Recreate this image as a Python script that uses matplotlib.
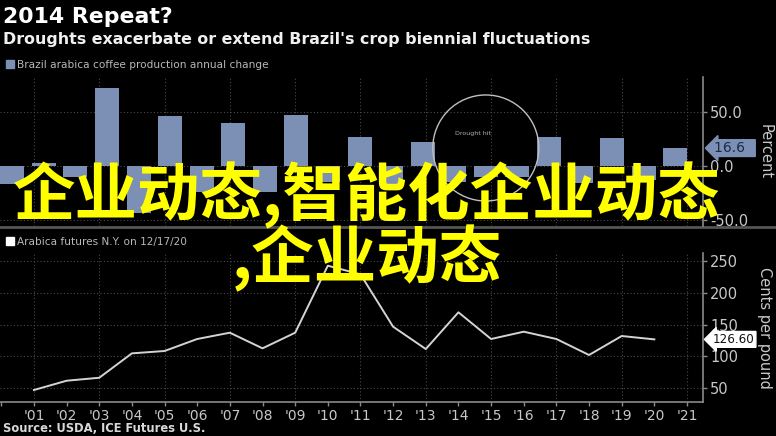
import matplotlib
matplotlib.use("Agg")
import matplotlib.pyplot as plt
from matplotlib.patches import Ellipse, Rectangle
import numpy as np

plt.rcParams['axes.unicode_minus'] = False

# ---------------- data ----------------
bar_years = [2000, 2001, 2002, 2003, 2004, 2005, 2006, 2007, 2008, 2009, 2010,
             2011, 2012, 2013, 2014, 2015, 2016, 2017, 2018, 2019, 2020, 2021]
bar_change = [-17, 3, -10, 72, -43.5, 46.3, -23.8, 39.5, -23.8, 47.2, -15,
              27.1, -18, 21.9, -15, -10, -10, 26.6, -15.7, 25.6, -13, 16.6]

line_years = [2001, 2002, 2003, 2004, 2005, 2006, 2007, 2008, 2009, 2010,
              2011, 2012, 2013, 2014, 2015, 2016, 2017, 2018, 2019, 2020]
line_price = [46.9, 61.5, 66.2, 104.6, 108.3, 127.2, 137.1, 112.5, 137.1, 242.6,
              229, 146.5, 111.4, 169.2, 127.2, 138.7, 127.2, 102, 131.9, 126.6]

xtick_years = list(range(2001, 2022))
xtick_labels = ["'%02d" % (y % 100) for y in xtick_years]
top_yticks = [-50, 0, 50]
bot_yticks = [50, 100, 150, 200, 250]

title = "2014 Repeat?"
subtitle = "Droughts exacerbate or extend Brazil's crop biennial fluctuations"
legend_top = "Brazil arabica coffee production annual change"
legend_bot = "Arabica futures N.Y. on 12/17/20"
source = "Source: USDA, ICE Futures U.S."
overlay1 = "企业动态,智能化企业动态"
overlay2 = ",企业动态"

# ---------------- style ----------------
W, H = 776, 436
BG = "#000000"
BAR = "#7b90b4"
GRID = "#4a4a4a"
AXC = "#8a8a8a"
TXT = "#c8c8c8"

fig = plt.figure(figsize=(W / 100, H / 100), dpi=100, facecolor=BG)

def fx(px):
    return px / W

def fy(py):
    return 1 - py / H

def rect(x0, y0, x1, y1):
    return [fx(x0), fy(y1), fx(x1) - fx(x0), fy(y0) - fy(y1)]

bot_xlim = (1999.96, 2021.49)
top_xlim = (1999.61, 2021.88)

# ---- top panel grid axes (behind) ----
top_rect = rect(0, 77, 703, 226)
axg = fig.add_axes(top_rect, zorder=1)
axg.set_facecolor(BG)
axg.set_xlim(bot_xlim)
axg.set_ylim(-55.5, 82.4)
for y in xtick_years[::2]:
    axg.axvline(y, color=GRID, lw=0.8, ls=(0, (1, 2)))
for v in top_yticks:
    axg.axhline(v, color=GRID, lw=0.8, ls=(0, (1, 2)))
axg.set_xticks([]); axg.set_yticks([])
for s in axg.spines.values():
    s.set_visible(False)

# ---- top bars ----
ax1 = fig.add_axes(top_rect, zorder=2)
ax1.patch.set_visible(False)
ax1.bar(bar_years, bar_change, width=0.76, color=BAR, zorder=3)
ax1.set_xlim(top_xlim)
ax1.set_ylim(-55.5, 82.4)
ax1.set_xticks([])
ax1.yaxis.tick_right()
ax1.set_yticks(top_yticks)
ax1.set_yticklabels(["%.1f" % v for v in top_yticks])
ax1.tick_params(axis='y', colors=AXC, labelcolor=TXT, labelsize=10.5, length=3, width=1, pad=2)
for k, s in ax1.spines.items():
    s.set_visible(k == 'right')
ax1.spines['right'].set_color(AXC)
ax1.spines['right'].set_linewidth(1.2)
ax1.yaxis.set_label_position('right')
ax1.set_ylabel("Percent", rotation=270, color=TXT, fontsize=10.5, va='center')
ax1.yaxis.set_label_coords(1.088, 0.5)

# drought circle
ax1.add_patch(Ellipse((2015.0, 16.7), 106 / 31.56, 106 / 1.08, fill=False,
                      edgecolor="#c0c0c0", lw=1.0, zorder=4))
ax1.text(2014.6, 30, "Drought hit", color="#b0b0b0", fontsize=4.5, ha='center', va='center', zorder=5)

# last value tag (top)
last = bar_change[-1]
ax1.annotate("%.1f  " % last, xy=(1.0, last), xycoords=('axes fraction', 'data'),
             xytext=(8, 0), textcoords='offset points', va='center', ha='left',
             color="#1c2a44", fontsize=10,
             bbox=dict(boxstyle="larrow,pad=0.1", fc=BAR, ec=BAR), zorder=6,
             annotation_clip=False)

# ---- bottom panel ----
bot_rect = rect(0, 253, 703, 402)
ax2 = fig.add_axes(bot_rect, zorder=2)
ax2.set_facecolor(BG)
ax2.set_xlim(bot_xlim)
ax2.set_ylim(28, 262.6)
for y in xtick_years[::2]:
    ax2.axvline(y, color=GRID, lw=0.8, ls=(0, (1, 2)), zorder=1)
for v in bot_yticks:
    ax2.axhline(v, color=GRID, lw=0.8, ls=(0, (1, 2)), zorder=1)
ax2.plot(line_years, line_price, color="#d4d4d4", lw=1.4, zorder=3)
ax2.set_xticks([2000] + xtick_years)
ax2.set_xticklabels([""] + xtick_labels)
ax2.tick_params(axis='x', colors=AXC, labelcolor=TXT, labelsize=10, length=3, width=1, pad=2)
ax2.yaxis.tick_right()
ax2.set_yticks(bot_yticks)
ax2.set_yticklabels([str(v) for v in bot_yticks])
ax2.tick_params(axis='y', colors=AXC, labelcolor=TXT, labelsize=10.5, length=3, width=1, pad=2)
for k, s in ax2.spines.items():
    s.set_visible(k in ('right', 'bottom'))
    s.set_color(AXC)
    s.set_linewidth(1.2)
ax2.yaxis.set_label_position('right')
ax2.set_ylabel("Cents per pound", rotation=270, color=TXT, fontsize=10.5, va='center')
ax2.yaxis.set_label_coords(1.088, 0.5)

lastp = line_price[-1]
ax2.annotate("%.2f" % lastp, xy=(1.0, lastp), xycoords=('axes fraction', 'data'),
             xytext=(7, 0), textcoords='offset points', va='center', ha='left',
             color="#111111", fontsize=8.6,
             bbox=dict(boxstyle="larrow,pad=0.12", fc="#ffffff", ec="#ffffff"), zorder=6,
             annotation_clip=False)

# ---- separator ----
fig.add_artist(plt.Line2D([0, 1], [fy(227), fy(227)], color="#555555", lw=2.0))

# ---- titles / legends ----
fig.text(fx(3), fy(23), title, color="#ffffff", fontsize=15.8, fontweight='bold',
         va='baseline', ha='left', family='DejaVu Sans')
fig.text(fx(3), fy(44), subtitle, color="#f0f0f0", fontsize=11.4, fontweight='bold',
         va='baseline', ha='left', family='DejaVu Sans')
fig.add_artist(Rectangle((fx(6), fy(68)), fx(8), fy(60) - fy(68), color=BAR))
fig.text(fx(17), fy(68), legend_top, color="#b8b8b8", fontsize=7.6, va='baseline', ha='left')
fig.add_artist(Rectangle((fx(6), fy(245)), fx(8), fy(237) - fy(245), color="#ffffff"))
fig.text(fx(17), fy(245), legend_bot, color="#b8b8b8", fontsize=7.6, va='baseline', ha='left')
fig.text(fx(3), fy(432), source, color="#d8d8d8", fontsize=8.3, fontweight='bold',
         va='baseline', ha='left')

# ---- yellow overlay ----
cjk = ['Noto Sans CJK SC', 'DejaVu Sans']
fig.text(fx(367), fy(195), overlay1, color="#ffff00", fontsize=45, fontweight='bold',
         ha='center', va='center', family=cjk, zorder=10)
fig.text(fx(367), fy(258), overlay2, color="#ffff00", fontsize=45, fontweight='bold',
         ha='center', va='center', family=cjk, zorder=10)

fig.savefig("out.png", dpi=100, facecolor=BG)
